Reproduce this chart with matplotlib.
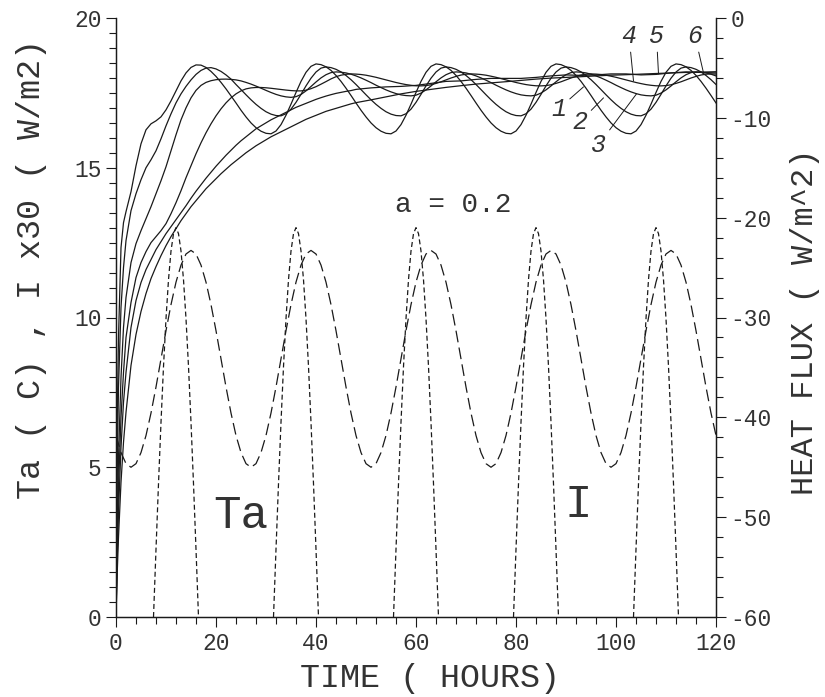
import numpy as np
import matplotlib
matplotlib.use("Agg")
import matplotlib.pyplot as plt
from matplotlib.ticker import MultipleLocator

plt.rcParams["axes.unicode_minus"] = False
plt.rcParams["lines.scale_dashes"] = False
plt.rcParams["font.family"] = ["Liberation Mono", "DejaVu Sans Mono"]

# time grid of the first two days (hours)
HOURS_START = [0, 0.25, 0.5, 1, 1.5] + list(range(2, 48))

# heat flux (W/m^2) of curves 1..6 over the first two days
flux1_start = [-60, -40, -32, -23, -20.5, -19.4, -17.4, -14.8, -12.6, -11.2, -10.6, -10.3, -9.9,
               -9.2, -8.3, -7.3, -6.3, -5.5, -4.95, -4.7, -4.72, -4.95, -5.35, -5.85, -6.45, -7.1,
               -7.8, -8.51, -9.24, -9.91, -10.51, -10.99, -11.34, -11.55, -11.6, -11.32, -10.68,
               -9.74, -8.63, -7.46, -6.35, -5.44, -4.84, -4.6, -4.67, -4.89, -5.25, -5.75, -6.35,
               -7.03, -7.76]
flux2_start = [-60, -45, -37, -29, -25, -22.3, -19.3, -17.6, -16.2, -15.0, -14.2, -13.3, -12.1,
               -10.8, -9.6, -8.5, -7.6, -6.85, -6.2, -5.65, -5.25, -5.02, -4.97, -5.1, -5.35, -5.7,
               -6.12, -6.66, -7.17, -7.69, -8.19, -8.65, -9.05, -9.39, -9.63, -9.77, -9.8, -9.59,
               -9.13, -8.45, -7.65, -6.8, -6.03, -5.41, -5.02, -4.9, -4.97, -5.14, -5.4, -5.76,
               -6.18]
flux3_start = [-60, -51, -44, -36, -31, -28, -24.5, -22.6, -21.3, -20.1, -18.9, -17.6, -16.3,
               -14.9, -13.3, -11.7, -10.2, -9.0, -8.0, -7.25, -6.75, -6.45, -6.28, -6.18, -6.13,
               -6.12, -6.15, -6.2, -6.3, -6.45, -6.62, -6.82, -7.03, -7.25, -7.46, -7.65, -7.8,
               -7.9, -7.95, -7.88, -7.66, -7.3, -6.86, -6.41, -6.0, -5.68, -5.47, -5.4, -5.43,
               -5.5, -5.63]
flux4_start = [-60, -53, -47, -40, -35.5, -32, -28.5, -26, -24.5, -23.4, -22.5, -21.9, -21.3,
               -20.6, -19.6, -18.5, -17.3, -16.0, -14.8, -13.6, -12.5, -11.5, -10.6, -9.8, -9.1,
               -8.5, -8.0, -7.6, -7.3, -7.1, -7.0, -6.96, -6.96, -6.99, -7.04, -7.1, -7.16, -7.22,
               -7.27, -7.3, -7.3, -7.23, -7.08, -6.88, -6.63, -6.37, -6.1, -5.88, -5.73, -5.64,
               -5.6]
flux5_start = [-60, -54, -49.5, -43, -38.5, -35.5, -31, -28.3, -26.5, -25.2, -24.2, -23.2, -22.4,
               -21.6, -20.9, -20.2, -19.5, -18.8, -18.05, -17.35, -16.7, -16.05, -15.45, -14.85,
               -14.3, -13.75, -13.25, -12.75, -12.3, -11.9, -11.5, -11.1, -10.8, -10.5, -10.2,
               -9.95, -9.7, -9.45, -9.2, -8.95, -8.75, -8.55, -8.35, -8.15, -7.98, -7.82, -7.68,
               -7.55, -7.45, -7.35, -7.27]
flux6_start = [-60, -55.5, -52, -46.5, -42.5, -39.5, -34.8, -31.7, -29.4, -27.6, -26.1, -24.9,
               -23.8, -22.8, -21.9, -21.1, -20.3, -19.6, -18.9, -18.3, -17.7, -17.1, -16.6, -16.1,
               -15.6, -15.15, -14.7, -14.3, -13.9, -13.5, -13.15, -12.8, -12.5, -12.2, -11.9,
               -11.65, -11.4, -11.15, -10.9, -10.65, -10.4, -10.15, -9.95, -9.75, -9.55, -9.35,
               -9.2, -9.05, -8.9, -8.75, -8.6]

# daily cycle (hour of day 0..23) that curves 1-4 follow from t = 48 h on
flux1_cycle = [-8.51, -9.24, -9.91, -10.51, -10.99, -11.34, -11.55, -11.6, -11.32, -10.68, -9.74,
               -8.63, -7.46, -6.35, -5.44, -4.84, -4.6, -4.67, -4.89, -5.25, -5.75, -6.35, -7.03,
               -7.76]
flux2_cycle = [-6.66, -7.17, -7.69, -8.19, -8.65, -9.05, -9.39, -9.63, -9.77, -9.8, -9.59, -9.13,
               -8.45, -7.65, -6.8, -6.03, -5.41, -5.02, -4.9, -4.97, -5.14, -5.4, -5.76, -6.18]
flux3_cycle = [-5.8, -6.0, -6.23, -6.47, -6.73, -6.97, -7.2, -7.4, -7.57, -7.7, -7.77, -7.8, -7.73,
               -7.52, -7.2, -6.81, -6.39, -6.0, -5.68, -5.47, -5.4, -5.43, -5.5, -5.63]
flux4_cycle = [-5.62, -5.66, -5.73, -5.83, -5.94, -6.07, -6.2, -6.33, -6.46, -6.57, -6.67, -6.74,
               -6.79, -6.8, -6.77, -6.69, -6.55, -6.39, -6.2, -6.01, -5.85, -5.71, -5.63, -5.6]

# curves 5 and 6 after t = 48 h, every 3 hours
HOURS_LATE = list(range(48, 121, 3))
flux5_late = [-7.15, -7.0, -6.9, -6.85, -6.75, -6.55, -6.35, -6.3, -6.15, -6.05, -6.05, -6.05,
              -5.95, -5.8, -5.7, -5.75, -5.7, -5.6, -5.6, -5.7, -5.65, -5.5, -5.4, -5.45, -5.5]
flux6_late = [-8.48, -8.2, -7.9, -7.6, -7.35, -7.15, -6.95, -6.78, -6.62, -6.5, -6.38, -6.25,
              -6.12, -6.02, -5.95, -5.88, -5.8, -5.73, -5.68, -5.62, -5.56, -5.5, -5.45, -5.42,
              -5.38]

# air temperature Ta (C) by hour of day 0..23
ta_cycle = [6.06, 5.49, 5.12, 5.0, 5.12, 5.49, 6.06, 6.81, 7.68, 8.62, 9.56, 10.43, 11.18, 11.75,
            12.12, 12.24, 12.12, 11.75, 11.18, 10.43, 9.56, 8.62, 7.68, 6.81]

# solar radiation x30 during daylight (hour of day, value)
sun_hours = [7.5, 8, 8.5, 9, 9.5, 10, 10.5, 11, 11.5, 12, 12.5, 13, 13.5, 14, 14.5, 15, 15.5,
             16, 16.5]
sun_values = [0, 2.26, 4.45, 6.5, 8.36, 9.96, 11.26, 12.22, 12.8, 13.0, 12.8, 12.22, 11.26, 9.96,
              8.36, 6.5, 4.45, 2.26, 0]
DAYS = [0, 24, 48, 72, 96]

INK = "#1a1a1a"
TXT = "#333333"

fig = plt.figure(figsize=(8.25, 6.97), dpi=100)
ax = fig.add_axes([116 / 825, 80 / 697, 600 / 825, 599 / 697])
ax2 = ax.twinx()

# heat flux curves
later = list(range(48, 121))
starts = [flux1_start, flux2_start, flux3_start, flux4_start]
cycles = [flux1_cycle, flux2_cycle, flux3_cycle, flux4_cycle]
for start, cycle in zip(starts, cycles):
    t = HOURS_START + later
    y = start + [cycle[h % 24] for h in later]
    ax2.plot(t, y, color=INK, lw=0.9)
for start, late in [(flux5_start, flux5_late), (flux6_start, flux6_late)]:
    ax2.plot(HOURS_START + HOURS_LATE, start + late, color=INK, lw=0.9)

# air temperature
t_ta = list(range(0, 121))
ax.plot(t_ta, [ta_cycle[h % 24] for h in t_ta], color=INK, lw=0.9, dashes=(8.5, 3.8))

# solar radiation humps
for d in DAYS:
    ax.plot([d + h for h in sun_hours], sun_values, color=INK, lw=0.9, dashes=(3.6, 2.2))

ax.set_xlim(0, 120)
ax.set_ylim(0, 20)
ax2.set_ylim(-60, 0)

for a in (ax, ax2):
    a.spines["top"].set_visible(False)
    for s in a.spines.values():
        s.set_linewidth(0.9)
        s.set_color(INK)

ax.xaxis.set_major_locator(MultipleLocator(20))
ax.xaxis.set_minor_locator(MultipleLocator(4))
ax.yaxis.set_major_locator(MultipleLocator(5))
ax.yaxis.set_minor_locator(MultipleLocator(0.5))
ax2.yaxis.set_major_locator(MultipleLocator(10))
ax2.yaxis.set_minor_locator(MultipleLocator(2))

for a in (ax, ax2):
    a.tick_params(which="major", direction="out", length=7.5, width=0.8, colors=INK,
                  labelsize=16.5, labelcolor=TXT, pad=3)
    a.tick_params(which="minor", direction="out", length=5, width=0.8, colors=INK)

# axis titles
fig.text(430 / 825, 1 - 679 / 697, "TIME ( HOURS)", fontsize=24, color=TXT,
         ha="center", va="center")
fig.text(32 / 825, 1 - 269 / 697, "Ta ( C) , I x30 ( W/m2)", fontsize=24, color=TXT,
         ha="center", va="center", rotation=90)
fig.text(805 / 825, 1 - 322 / 697, "HEAT FLUX ( W/m^2)", fontsize=23, color=TXT,
         ha="center", va="center", rotation=90)

# annotations
ax.text(67.4, 13.75, "a = 0.2", fontsize=20, color=TXT, ha="center", va="center")
ax.text(25, 2.96, "Ta", fontsize=33, color=TXT, ha="center", va="baseline")
ax.text(92.4, 3.33, "I", fontsize=33, color=TXT, ha="center", va="baseline")

curve_labels = [
    ("1", (93.5, -6.9), (88.5, -9.1)),
    ("2", (97.5, -8.0), (92.8, -10.4)),
    ("3", (104.1, -7.6), (96.5, -12.7)),
    ("4", (103.5, -6.3), (102.6, -1.8)),
    ("5", (108.5, -5.6), (108.1, -1.8)),
    ("6", (117.5, -5.5), (115.8, -1.8)),
]
for txt, tip, pos in curve_labels:
    ax2.annotate(txt, xy=tip, xytext=pos, fontsize=18, style="italic", color=TXT,
                 ha="center", va="center",
                 arrowprops=dict(arrowstyle="-", lw=0.7, color=INK, shrinkA=1, shrinkB=0))

fig.savefig("out.png", dpi=100)
